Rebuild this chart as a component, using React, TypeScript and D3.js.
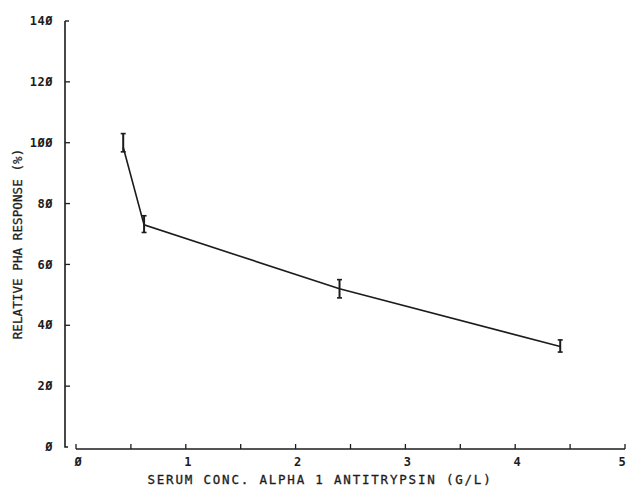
import React, { useEffect, useRef } from 'react';
import * as d3 from 'd3';

const conc = [0.43, 0.62, 2.4, 4.41];
const response = [98.5, 73, 52, 33];
const errLow = [97, 70.5, 49, 31.2];
const errHigh = [103, 76, 55, 35.2];
const yTicks = [0, 20, 40, 60, 80, 100, 120, 140];
const xTicks = [0, 0.5, 1, 1.5, 2, 2.5, 3, 3.5, 4, 4.5, 5];
const xLabels = [0, 1, 2, 3, 4, 5];

const fmt = (v: number) => String(v).replace(/0/g, '\u00D8');

const App = () => {
  const ref = useRef<SVGSVGElement>(null);

  useEffect(() => {
    const svg = d3.select(ref.current);
    svg.selectAll('*').remove();
    const ink = '#1c1c1c';
    const font = '"DejaVu Sans Mono", monospace';

    const x = d3.scaleLinear().domain([0, 5]).range([76, 625]);
    const y = d3.scaleLinear().domain([0, 140]).range([447, 21]);

    // y axis with little foot at the bottom
    svg.append('path')
      .attr('d', `M65,${y(140)}V${y(0)}H68`)
      .attr('fill', 'none').attr('stroke', ink).attr('stroke-width', 1.6);
    svg.append('line').attr('x1', 65).attr('x2', 69).attr('y1', y(140)).attr('y2', y(140))
      .attr('stroke', ink).attr('stroke-width', 1.4);
    svg.selectAll('.yt').data(yTicks.slice(1, -1)).enter().append('line')
      .attr('x1', 65).attr('x2', 70).attr('y1', d => y(d)).attr('y2', d => y(d))
      .attr('stroke', ink).attr('stroke-width', 1.3);
    svg.selectAll('.yl').data(yTicks).enter().append('text')
      .attr('x', 53).attr('y', d => y(d)).attr('dy', '0.35em')
      .attr('text-anchor', 'end').attr('font-family', font).attr('font-weight', 'bold')
      .attr('font-size', 12).attr('letter-spacing', 0.5).attr('fill', ink)
      .text(d => fmt(d));

    // x axis
    const xa = 449;
    svg.append('line').attr('x1', x(0)).attr('x2', x(5)).attr('y1', xa).attr('y2', xa)
      .attr('stroke', ink).attr('stroke-width', 1.6);
    svg.selectAll('.xt').data(xTicks).enter().append('line')
      .attr('x1', d => x(d)).attr('x2', d => x(d)).attr('y1', xa).attr('y2', xa - 5)
      .attr('stroke', ink).attr('stroke-width', 1.3);
    svg.selectAll('.xl').data(xLabels).enter().append('text')
      .attr('x', d => Math.min(x(d) + 2, 622)).attr('y', 466)
      .attr('text-anchor', 'middle').attr('font-family', font).attr('font-weight', 'bold')
      .attr('font-size', 12).attr('fill', ink)
      .text(d => fmt(d));

    // titles
    svg.append('text').attr('x', 320).attr('y', 484).attr('text-anchor', 'middle')
      .attr('font-family', font).attr('font-size', 12.5).attr('letter-spacing', 1.8)
      .attr('stroke', ink).attr('stroke-width', 0.3)
      .attr('fill', ink).text('SERUM CONC. ALPHA 1 ANTITRYPSIN (G/L)');
    svg.append('text').attr('transform', 'translate(22,244) rotate(-90)')
      .attr('text-anchor', 'middle').attr('font-family', font).attr('font-size', 12.5)
      .attr('stroke', ink).attr('stroke-width', 0.3)
      .attr('letter-spacing', 0.1).attr('fill', ink).text('RELATIVE PHA RESPONSE (%)');

    // data line
    const pts = conc.map((c, i) => [c, response[i]] as [number, number]);
    svg.append('path').datum(pts)
      .attr('d', d3.line<[number, number]>().x(d => x(d[0])).y(d => y(d[1])))
      .attr('fill', 'none').attr('stroke', ink).attr('stroke-width', 1.6);

    // error bars
    const eb = svg.selectAll('.eb').data(conc).enter().append('g');
    eb.append('line').attr('x1', d => x(d)).attr('x2', d => x(d))
      .attr('y1', (d, i) => y(errLow[i])).attr('y2', (d, i) => y(errHigh[i]))
      .attr('stroke', ink).attr('stroke-width', 2);
    eb.append('line').attr('x1', d => x(d) - 2.5).attr('x2', d => x(d) + 2.5)
      .attr('y1', (d, i) => y(errLow[i])).attr('y2', (d, i) => y(errLow[i]))
      .attr('stroke', ink).attr('stroke-width', 1.6);
    eb.append('line').attr('x1', d => x(d) - 2.5).attr('x2', d => x(d) + 2.5)
      .attr('y1', (d, i) => y(errHigh[i])).attr('y2', (d, i) => y(errHigh[i]))
      .attr('stroke', ink).attr('stroke-width', 1.6);
  }, []);

  return (
    <div className="App">
      <svg ref={ref} width={628} height={492}
        style={{ position: 'absolute', left: 0, top: 0, background: '#fff' }} />
    </div>
  );
};

export default App;
